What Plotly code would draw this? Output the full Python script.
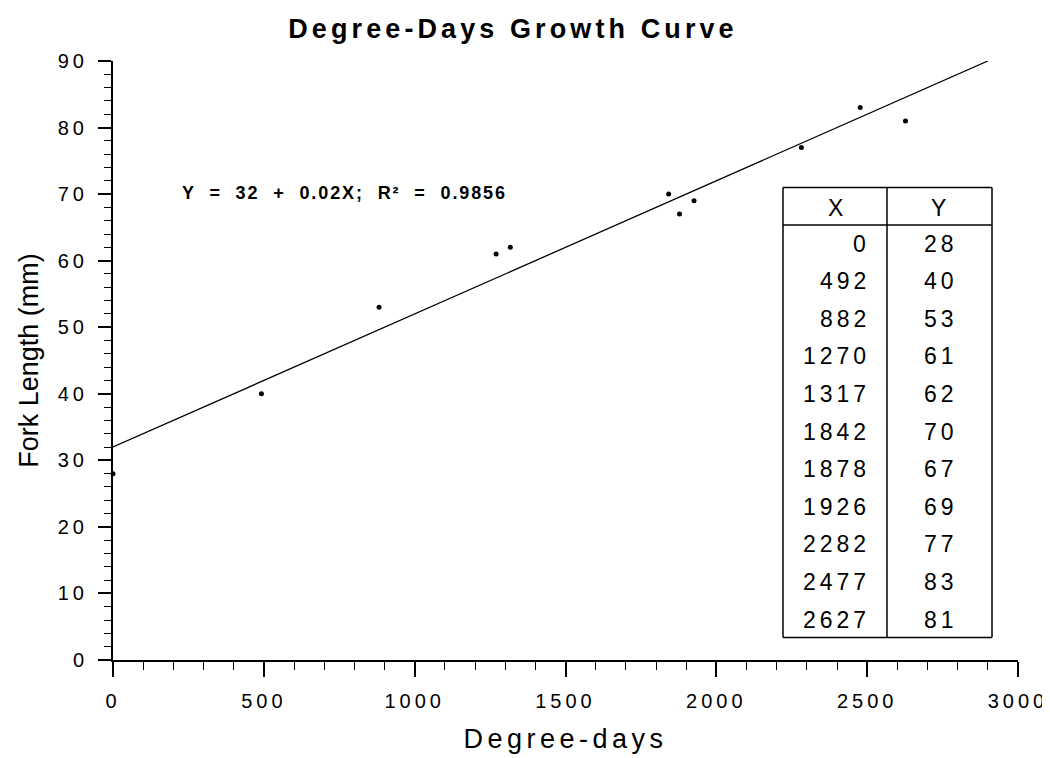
import numpy as np
import plotly.graph_objects as go

# ---------------- data ----------------
degree_days = [0, 492, 882, 1270, 1317, 1842, 1878, 1926, 2282, 2477, 2627]
fork_length = [28, 40, 53, 61, 62, 70, 67, 69, 77, 83, 81]

fit_intercept = 32
fit_slope = 0.02
fit_r2 = 0.9856
fit_x_range = [0, 2900]

x_tick_vals = [0, 500, 1000, 1500, 2000, 2500, 3000]
y_tick_vals = [0, 10, 20, 30, 40, 50, 60, 70, 80, 90]

title_text = "Degree-Days Growth Curve"
x_title = "Degree-days"
y_title = "Fork Length (mm)"
table_headers = ["X", "Y"]

# ---------------- layout constants ----------------
OFF = 8  # page body margin
W, H = 1042, 750
ML, MT = 113 - OFF, 61 - OFF
MR = W - (1018 - OFF)
MB = H - (660 - OFF)
PW, PH = W - ML - MR, H - MT - MB
FONT = "Liberation Sans, Arial, Helvetica, sans-serif"


def px_x(p):
    return (p - OFF - ML) / PW


def px_y(p):
    return (H - MB - (p - OFF)) / PH


def spaced(t, s):
    return f"<span style='letter-spacing:{s}px'>{t}</span>"


fit_x = np.array(fit_x_range, dtype=float)
fit_y = fit_intercept + fit_slope * fit_x

fig = go.Figure()

fig.add_trace(go.Scatter(
    x=fit_x, y=fit_y, mode="lines",
    line=dict(color="black", width=1.3),
    hoverinfo="skip", showlegend=False,
))
fig.add_trace(go.Scatter(
    x=degree_days, y=fork_length, mode="markers",
    marker=dict(color="black", size=5),
    cliponaxis=False, showlegend=False,
))

# equation annotation
eq_text = f"Y = {fit_intercept} + {fit_slope}X; R² = {fit_r2}"
fig.add_annotation(
    x=px_x(180), y=px_y(193), xref="paper", yref="paper",
    xanchor="left", yanchor="middle", showarrow=False,
    text=spaced(eq_text.replace(" ", "  "), 1.9),
    font=dict(family=FONT, size=18, color="black", weight="bold"),
)

# ---------------- inset table ----------------
tx0, tx1, tdiv = 783, 992, 887
ty0, thead, ty1 = 187.5, 225, 637.5
line_style = dict(color="black", width=1.5)
for (a, b, c, d) in [(tx0, ty0, tx1, ty0), (tx0, ty1, tx1, ty1), (tx0, ty0, tx0, ty1),
                     (tx1, ty0, tx1, ty1), (tdiv, ty0, tdiv, ty1), (tx0, thead, tx1, thead)]:
    fig.add_shape(type="line", xref="paper", yref="paper",
                  x0=px_x(a), y0=px_y(b), x1=px_x(c), y1=px_y(d), line=line_style)

TS = 4.0
tfont = dict(family=FONT, size=23, color="black")
fig.add_annotation(x=px_x(835 + TS / 2), y=px_y(208), xref="paper", yref="paper",
                   text=spaced(table_headers[0], TS), showarrow=False,
                   xanchor="center", yanchor="middle", font=tfont)
fig.add_annotation(x=px_x(938 + TS / 2), y=px_y(208), xref="paper", yref="paper",
                   text=spaced(table_headers[1], TS), showarrow=False,
                   xanchor="center", yanchor="middle", font=tfont)
row0, row_step = 243.5, 37.6
for i, (xv, yv) in enumerate(zip(degree_days, fork_length)):
    yc = px_y(row0 + i * row_step)
    fig.add_annotation(x=px_x(868 + TS), y=yc, xref="paper", yref="paper",
                       text=spaced(xv, TS), showarrow=False,
                       xanchor="right", yanchor="middle", font=tfont)
    fig.add_annotation(x=px_x(956 + TS), y=yc, xref="paper", yref="paper",
                       text=spaced(yv, TS), showarrow=False,
                       xanchor="right", yanchor="middle", font=tfont)

tick_font = dict(family=FONT, size=20, color="black")

fig.update_layout(
    width=W, height=H,
    margin=dict(l=ML, r=MR, t=MT, b=MB, autoexpand=False),
    paper_bgcolor="white", plot_bgcolor="white",
    font=dict(family=FONT, color="black"),
    title=dict(
        text=spaced(title_text, 4.1),
        x=(513 - OFF) / W, xanchor="center", y=1 - (29 - OFF) / H, yanchor="middle",
        font=dict(family=FONT, size=27, color="black", weight="bold"),
    ),
    xaxis=dict(
        range=[0, 3000], showgrid=False, zeroline=False, automargin=False,
        showline=True, linecolor="black", linewidth=2,
        ticks="outside", ticklen=15, tickwidth=1.5, tickcolor="black",
        tickvals=x_tick_vals, ticktext=[spaced(v, 4) for v in x_tick_vals],
        tickfont=tick_font, ticklabelstandoff=7,
        minor=dict(dtick=100, ticks="outside", ticklen=8, tickwidth=1.3, tickcolor="black"),
        title=dict(text=spaced(x_title, 4.5), standoff=18,
                   font=dict(family=FONT, size=27, color="black")),
    ),
    yaxis=dict(
        range=[0, 90], showgrid=False, zeroline=False, automargin=False,
        showline=True, linecolor="black", linewidth=2,
        ticks="outside", ticklen=13, tickwidth=1.5, tickcolor="black",
        tickvals=y_tick_vals, ticktext=[spaced(v, 4) for v in y_tick_vals],
        tickfont=tick_font, ticklabelstandoff=6,
        minor=dict(dtick=2, ticks="outside", ticklen=7, tickwidth=1.3, tickcolor="black"),
        title=dict(text=y_title, standoff=11,
                   font=dict(family=FONT, size=27, color="black")),
    ),
)

fig.write_html("out.html")
